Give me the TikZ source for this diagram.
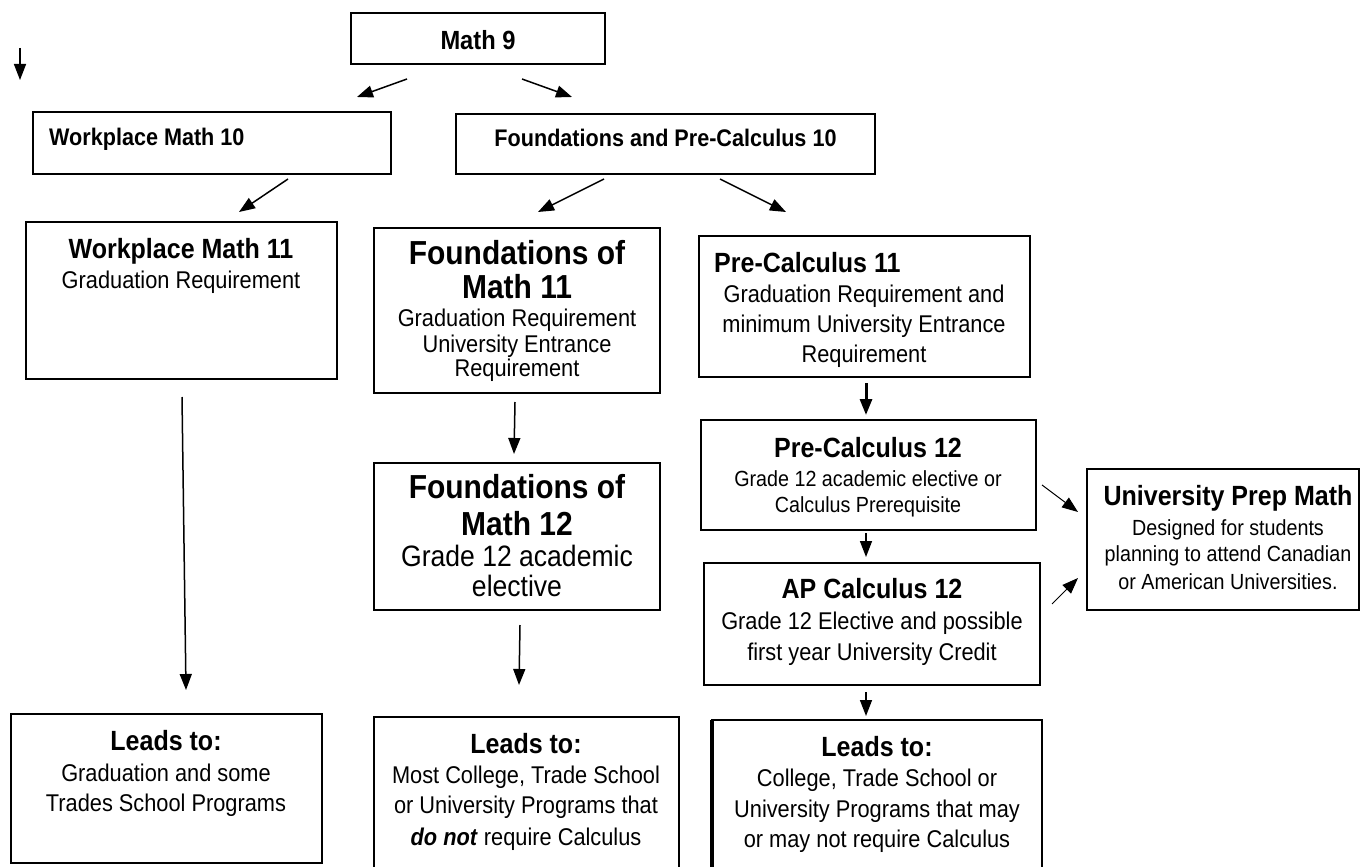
\documentclass[tikz,border=0pt]{standalone}
\usepackage{fontspec}
\setmainfont{Liberation Sans}[FakeStretch=0.9]
\usetikzlibrary{arrows.meta}
\begin{document}
\begin{tikzpicture}[x=1pt,y=-1pt,
  box/.style={draw, line width=1.8pt, rectangle, inner sep=0pt, outer sep=0pt},
  tl/.style={anchor=base, inner sep=0pt, font=\fontsize{27.8}{30}\selectfont\bfseries},
  tlbig/.style={anchor=base, inner sep=0pt, font=\fontsize{33.3}{36}\selectfont\bfseries},
  rg/.style={anchor=base, inner sep=0pt, font=\fontsize{24.2}{26}\selectfont},
  rgsmall/.style={anchor=base, inner sep=0pt, font=\fontsize{21.9}{24}\selectfont},
  rgbig/.style={anchor=base, inner sep=0pt, font=\fontsize{29.5}{32}\selectfont},
  arr/.style={line width=1.5pt, -{Triangle[length=16pt,width=12pt]}},
  thinarr/.style={line width=1pt, -{Triangle[length=16pt,width=12pt]}}]
\useasboundingbox (0,0) rectangle (1360,867);
\fill[white] (0,0) rectangle (1360,867);

% boxes
\node[box, minimum width=254pt, minimum height=51pt] (m9) at (478,38.5) {};
\node[box, minimum width=358pt, minimum height=62pt] (wm10) at (212,143) {};
\node[box, minimum width=419pt, minimum height=60pt] (fpc10) at (665.5,144) {};
\node[box, minimum width=311pt, minimum height=157pt] (wm11) at (181.5,300.5) {};
\node[box, minimum width=286pt, minimum height=165pt] (f11) at (517,310.5) {};
\node[box, minimum width=331pt, minimum height=141pt] (pc11) at (864.5,306.5) {};
\node[box, minimum width=335pt, minimum height=110pt] (pc12) at (868.5,475) {};
\node[box, minimum width=286pt, minimum height=147pt] (f12) at (517,536.5) {};
\node[box, minimum width=336pt, minimum height=122pt] (ap) at (872,624) {};
\node[box, minimum width=272pt, minimum height=141pt] (upm) at (1223,539.5) {};
\node[box, minimum width=311pt, minimum height=149pt] (l1) at (166.5,788.5) {};
\node[box, minimum width=305pt, minimum height=152pt] (l2) at (526.5,793) {};
\node[box, line width=2.4pt, minimum width=330pt, minimum height=150pt] (l3) at (877,795) {};
\draw[line width=4pt] (l3.north west) -- (l3.south west);

% texts
\node[tl, font=\fontsize{26.3}{28}\selectfont\bfseries] (tm9) at (478,49) {Math 9};
\node[tl, anchor=base west, font=\fontsize{24}{26}\selectfont\bfseries] (twm10) at (49,145) {Workplace Math 10};
\node[tl, font=\fontsize{24}{26}\selectfont\bfseries] (tfpc10) at (665.5,146) {Foundations and Pre-Calculus 10};

\node[tl] (twm11a) at (181,258) {Workplace Math 11};
\node[rg] (twm11b) at (181,288) {Graduation Requirement};

\node[tlbig] (tf11a) at (517,264) {Foundations of};
\node[tlbig] (tf11b) at (517,298) {Math 11};
\node[rg] (tf11c) at (517,326) {Graduation Requirement};
\node[rg] (tf11d) at (517,352) {University Entrance};
\node[rg] (tf11e) at (517,376) {Requirement};

\node[tl, anchor=base west] (tpc11a) at (714,272) {Pre-Calculus 11};
\node[rg] (tpc11b) at (864,302) {Graduation Requirement and};
\node[rg] (tpc11c) at (864,332) {minimum University Entrance};
\node[rg] (tpc11d) at (864,362) {Requirement};

\node[tl] (tpc12a) at (868,457) {Pre-Calculus 12};
\node[rgsmall] (tpc12b) at (868,486) {Grade 12 academic elective or};
\node[rgsmall] (tpc12c) at (868,512) {Calculus Prerequisite};

\node[tlbig] (tf12a) at (517,498) {Foundations of};
\node[tlbig] (tf12b) at (517,535) {Math 12};
\node[rgbig] (tf12c) at (517,566) {Grade 12 academic};
\node[rgbig] (tf12d) at (517,596) {elective};

\node[tl] (tapa) at (872,598) {AP Calculus 12};
\node[rg] (tapb) at (872,629) {Grade 12 Elective and possible};
\node[rg] (tapc) at (872,660) {first year University Credit};

\node[tl] (tupma) at (1228,505) {University Prep Math};
\node[rgsmall] (tupmb) at (1228,535) {Designed for students};
\node[rgsmall] (tupmc) at (1228,561) {planning to attend Canadian};
\node[rgsmall] (tupmd) at (1228,589) {or American Universities.};

\node[tl] (tl1a) at (166,750) {Leads to:};
\node[rg] (tl1b) at (166,781) {Graduation and some};
\node[rg] (tl1c) at (166,811) {Trades School Programs};

\node[tl] (tl2a) at (526,753) {Leads to:};
\node[rg] (tl2b) at (526,783) {Most College, Trade School};
\node[rg] (tl2c) at (526,813) {or University Programs that};
\node[rg] (tl2d) at (526,845) {\textbf{\textit{do not}} require Calculus};

\node[tl] (tl3a) at (877,756) {Leads to:};
\node[rg] (tl3b) at (877,786) {College, Trade School or};
\node[rg] (tl3c) at (877,817) {University Programs that may};
\node[rg] (tl3d) at (877,847) {or may not require Calculus};

% arrow end points
\coordinate (a0s) at (20,48);   \coordinate (a0e) at (20,80);
\coordinate (a1s) at (407,79);  \coordinate (a1e) at (357,97);
\coordinate (a2s) at (522,79);  \coordinate (a2e) at (572,97);
\coordinate (a3s) at (288,179); \coordinate (a3e) at (239,212);
\coordinate (a4s) at (604,179); \coordinate (a4e) at (538,212);
\coordinate (a5s) at (720,179); \coordinate (a5e) at (786,212);
\coordinate (a6s) at (182,397); \coordinate (a6e) at (186,690);
\coordinate (a7s) at (515,402); \coordinate (a7e) at (514,454);
\coordinate (a8s) at (520,625); \coordinate (a8e) at (519,685);
\coordinate (a9s) at (866,383); \coordinate (a9e) at (866,415);
\coordinate (a10s) at (866,533); \coordinate (a10e) at (866,557);
\coordinate (a11s) at (866,692); \coordinate (a11e) at (866,716);
\coordinate (a12s) at (1042,485); \coordinate (a12e) at (1078,512);
\coordinate (a13s) at (1052,604); \coordinate (a13e) at (1078,578);

\draw[arr] (a0s) -- (a0e);
\draw[arr] (a1s) -- (a1e);
\draw[arr] (a2s) -- (a2e);
\draw[arr] (a3s) -- (a3e);
\draw[arr] (a4s) -- (a4e);
\draw[arr] (a5s) -- (a5e);
\draw[arr] (a6s) -- (a6e);
\draw[arr] (a7s) -- (a7e);
\draw[arr] (a8s) -- (a8e);
\draw[arr, line width=3pt] (a9s) -- (a9e);
\draw[arr] (a10s) -- (a10e);
\draw[arr] (a11s) -- (a11e);
\draw[thinarr] (a12s) -- (a12e);
\draw[thinarr] (a13s) -- (a13e);
\end{tikzpicture}
\end{document}
